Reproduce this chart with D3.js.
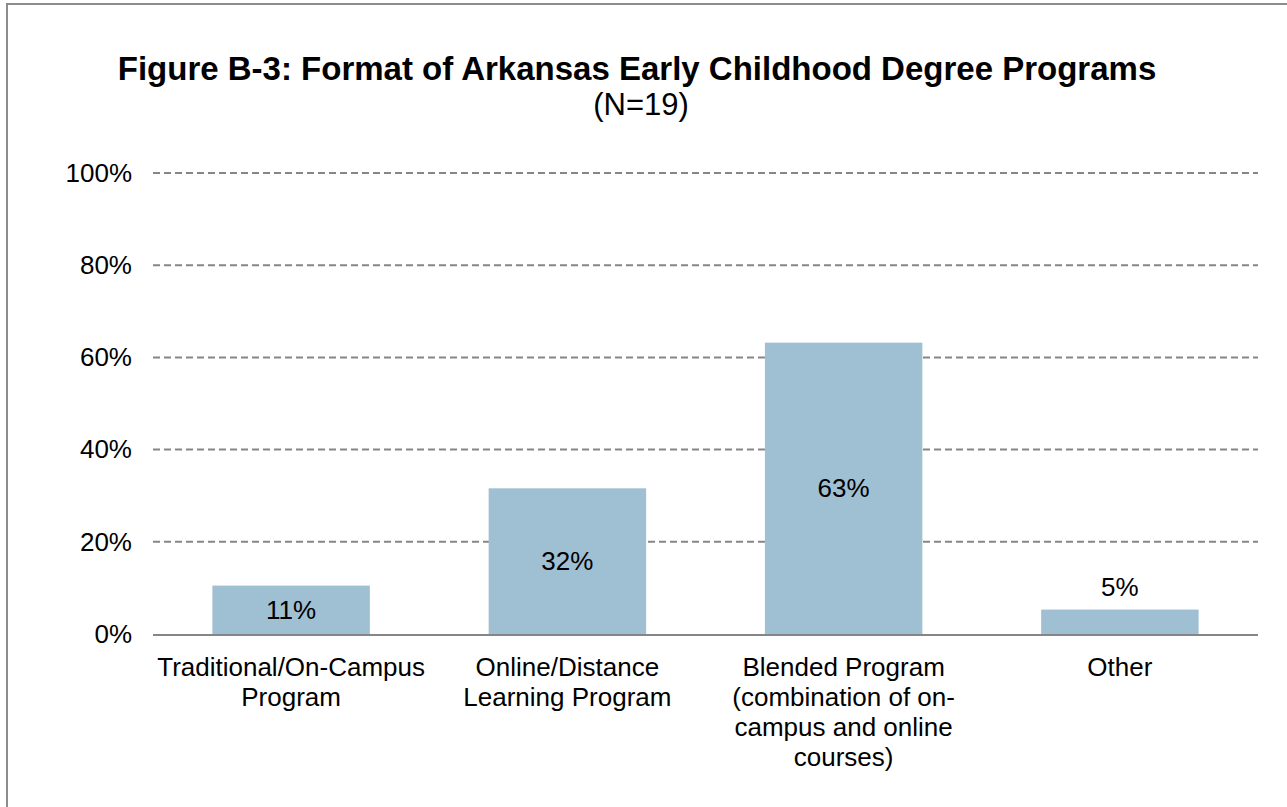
<!DOCTYPE html>
<html>
<head>
<meta charset="utf-8">
<script src="https://cdn.jsdelivr.net/npm/d3@7"></script>
<style>
  body { margin: 0; background: #fff; }
  text { font-family: Arial, "Liberation Sans", sans-serif; fill: #000; }
</style>
</head>
<body>
<div id="chart"></div>
<script>
const categories = [
  ["Traditional/On-Campus", "Program"],
  ["Online/Distance", "Learning Program"],
  ["Blended Program", "(combination of on-", "campus and online", "courses)"],
  ["Other"]
];
const values = [10.5, 31.6, 63.2, 5.3];
const valueLabels = ["11%", "32%", "63%", "5%"];
const yTicks = [0, 20, 40, 60, 80, 100];

const W = 1287, H = 807;
const plotLeft = 153, plotRight = 1258, plotTop = 173, plotBottom = 634;

const svg = d3.select("#chart").append("svg")
    .attr("width", W)
    .attr("height", H);

// frame
svg.append("rect")
    .attr("x", 7).attr("y", 4)
    .attr("width", W + 10).attr("height", H + 10)
    .attr("fill", "none")
    .attr("stroke", "#8c8c8c")
    .attr("stroke-width", 2);

svg.append("text")
    .attr("x", 637).attr("y", 80)
    .attr("text-anchor", "middle")
    .style("font-size", "33px")
    .style("font-weight", "bold")
    .text("Figure B-3: Format of Arkansas Early Childhood Degree Programs");

svg.append("text")
    .attr("x", 641).attr("y", 115)
    .attr("text-anchor", "middle")
    .style("font-size", "31px")
    .text("(N=19)");

const x = d3.scaleBand()
    .domain(d3.range(categories.length))
    .range([plotLeft, plotRight])
    .paddingInner(0.43)
    .paddingOuter(0.215);

const y = d3.scaleLinear()
    .domain([0, 100])
    .range([plotBottom, plotTop]);

// gridlines
svg.append("g")
    .selectAll("line")
    .data(yTicks.filter(d => d > 0))
    .enter()
    .append("line")
    .attr("x1", plotLeft).attr("x2", plotRight)
    .attr("y1", d => y(d)).attr("y2", d => y(d))
    .attr("stroke", "#868686")
    .attr("stroke-width", 2)
    .attr("stroke-dasharray", "7,4");

// y axis labels
const yAxis = d3.axisLeft(y).tickValues(yTicks).tickFormat(d => d + "%").tickSize(0).tickPadding(21);
const gy = svg.append("g")
    .attr("transform", "translate(" + plotLeft + ",0)")
    .call(yAxis);
gy.select(".domain").remove();
gy.selectAll("text")
    .style("font-size", "26px")
    .style("font-family", "Arial, 'Liberation Sans', sans-serif")
    .attr("fill", "#000");

svg.selectAll("rect.bar")
    .data(values)
    .enter()
    .append("rect")
    .attr("class", "bar")
    .attr("x", (d, i) => x(i))
    .attr("y", d => y(d))
    .attr("width", x.bandwidth())
    .attr("height", d => plotBottom - y(d))
    .attr("fill", "#9fbfd3");

// baseline
svg.append("line")
    .attr("x1", plotLeft).attr("x2", plotRight)
    .attr("y1", plotBottom + 1).attr("y2", plotBottom + 1)
    .attr("stroke", "#868686")
    .attr("stroke-width", 2);

// value labels
svg.selectAll("text.val")
    .data(values)
    .enter()
    .append("text")
    .attr("class", "val")
    .attr("x", (d, i) => x(i) + x.bandwidth() / 2)
    .attr("y", d => (plotBottom - y(d)) > 40 ? (y(d) + plotBottom) / 2 + 9 : y(d) - 14)
    .attr("text-anchor", "middle")
    .style("font-size", "26px")
    .text((d, i) => valueLabels[i]);

// category labels
const cat = svg.selectAll("text.cat")
    .data(categories)
    .enter()
    .append("text")
    .attr("class", "cat")
    .attr("text-anchor", "middle")
    .style("font-size", "26px");
cat.selectAll("tspan")
    .data((d, i) => d.map(s => ({ s: s, i: i })))
    .enter()
    .append("tspan")
    .attr("x", d => x(d.i) + x.bandwidth() / 2)
    .attr("y", (d, j) => 676 + j * 30)
    .text(d => d.s);
</script>
</body>
</html>
